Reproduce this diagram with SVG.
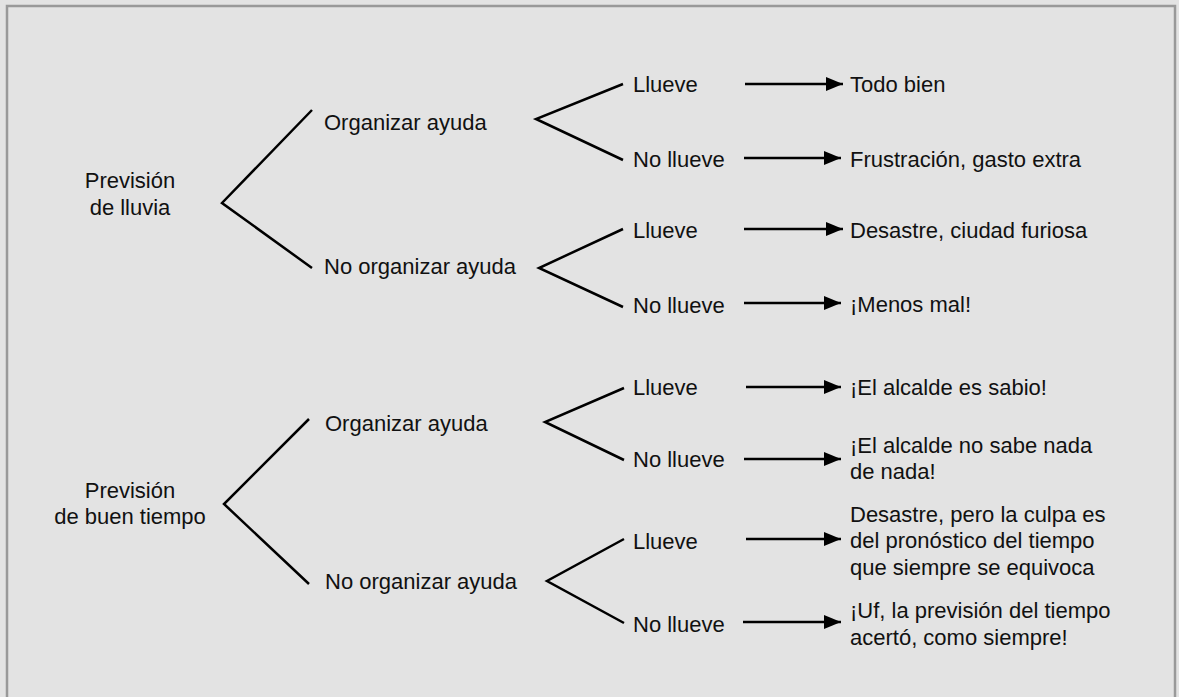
<svg xmlns="http://www.w3.org/2000/svg" width="1179" height="697" viewBox="0 0 1179 697">
<style>
  text { font-family: "Liberation Sans", Arial, sans-serif; font-size: 22px; fill: #111; }
  .c { text-anchor: middle; }
  .br { fill: none; stroke: #000; stroke-width: 2.5; stroke-linejoin: miter; }
  .ar { stroke: #000; stroke-width: 2.5; marker-end: url(#ah); }
</style>
<defs>
  <marker id="ah" markerUnits="userSpaceOnUse" markerWidth="18" markerHeight="14" refX="17" refY="7" orient="auto">
    <path d="M0,0 L17,7 L0,14 Z" fill="#000"/>
  </marker>
</defs>
<rect x="0" y="0" width="1179" height="697" fill="#e3e3e3"/>
<rect x="7" y="6" width="1168" height="720" fill="#e3e3e3" stroke="#999" stroke-width="2.5"/>

<g id="connectors">
  <polyline class="br" points="312,110 222,203 312,268"/>
  <polyline class="br" points="623,84 536,119 623,160"/>
  <polyline class="br" points="623,229 539,268 623,307"/>
  <polyline class="br" points="309,419 224,504 309,584"/>
  <polyline class="br" points="624,388 545,422 624,460"/>
  <polyline class="br" points="624,539 547,581 624,623"/>
  <line class="ar" x1="745" y1="84" x2="843" y2="84"/>
  <line class="ar" x1="744" y1="158" x2="841" y2="158"/>
  <line class="ar" x1="744" y1="229" x2="843" y2="229"/>
  <line class="ar" x1="744" y1="303" x2="841" y2="303"/>
  <line class="ar" x1="746" y1="387" x2="841" y2="387"/>
  <line class="ar" x1="744" y1="459" x2="841" y2="459"/>
  <line class="ar" x1="746" y1="539" x2="841" y2="539"/>
  <line class="ar" x1="743" y1="622" x2="841" y2="622"/>
</g>

<g id="root-lluvia"><text class="c" x="130" y="188">Previsión</text><text class="c" x="130" y="215">de lluvia</text></g>
<g id="root-buen"><text class="c" x="130" y="498">Previsión</text><text class="c" x="130" y="524">de buen tiempo</text></g>

<g id="a1"><text x="324" y="130">Organizar ayuda</text></g>
<g id="a2"><text x="324" y="274">No organizar ayuda</text></g>
<g id="a3"><text x="325" y="431">Organizar ayuda</text></g>
<g id="a4"><text x="325" y="589">No organizar ayuda</text></g>

<g id="w1"><text x="633" y="92">Llueve</text></g>
<g id="w2"><text x="633" y="167">No llueve</text></g>
<g id="w3"><text x="633" y="238">Llueve</text></g>
<g id="w4"><text x="633" y="313">No llueve</text></g>
<g id="w5"><text x="633" y="395">Llueve</text></g>
<g id="w6"><text x="633" y="467">No llueve</text></g>
<g id="w7"><text x="633" y="549">Llueve</text></g>
<g id="w8"><text x="633" y="632">No llueve</text></g>

<g id="r1"><text x="850" y="92">Todo bien</text></g>
<g id="r2"><text x="850" y="167">Frustración, gasto extra</text></g>
<g id="r3"><text x="850" y="238">Desastre, ciudad furiosa</text></g>
<g id="r4"><text x="850" y="312">¡Menos mal!</text></g>
<g id="r5"><text x="850" y="395">¡El alcalde es sabio!</text></g>
<g id="r6"><text x="850" y="453">¡El alcalde no sabe nada</text><text x="850" y="479">de nada!</text></g>
<g id="r7"><text x="850" y="522">Desastre, pero la culpa es</text><text x="850" y="548">del pronóstico del tiempo</text><text x="850" y="575">que siempre se equivoca</text></g>
<g id="r8"><text x="850" y="618">¡Uf, la previsión del tiempo</text><text x="850" y="645">acertó, como siempre!</text></g>
</svg>
